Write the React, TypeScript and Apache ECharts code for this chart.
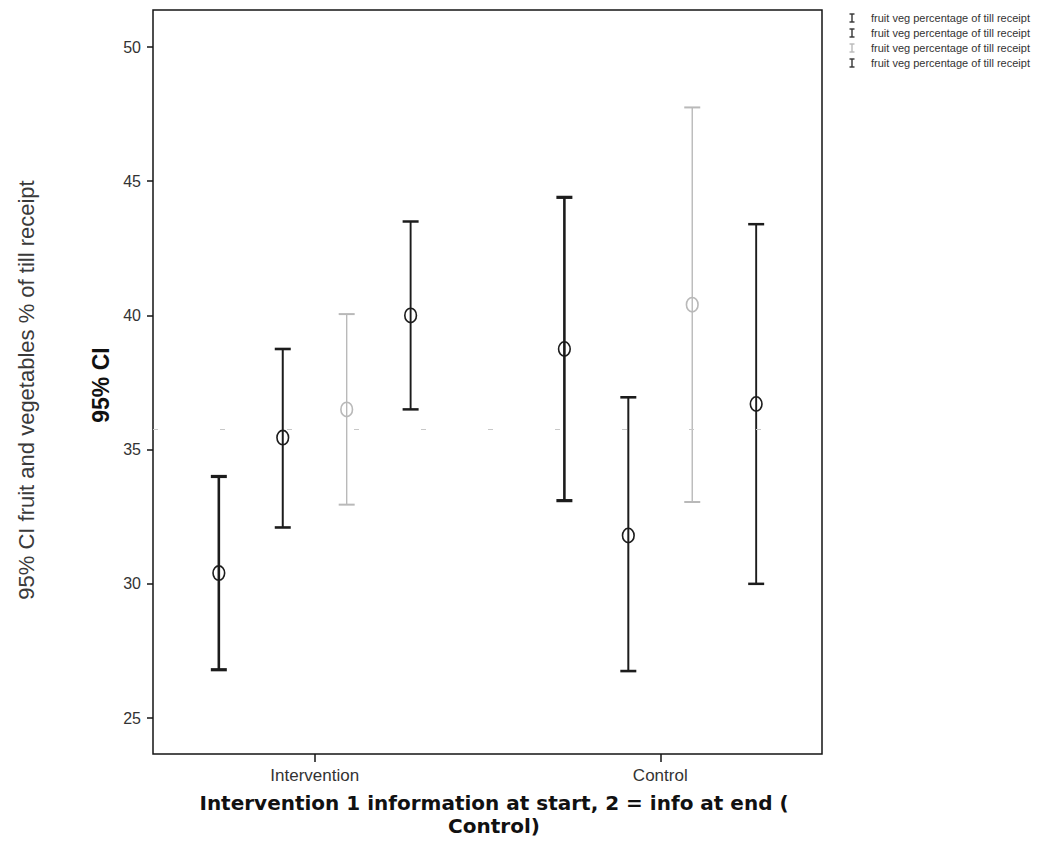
import React, { useEffect, useRef } from "react";
import * as echarts from "echarts";

// ---- data ----
const groupNames = ["Intervention", "Control"];
const groupPositions = [1, 2];
const yTickValues = [25, 30, 35, 40, 45, 50];

const s1Lower = [26.8, 33.1];
const s1Mean = [30.4, 38.75];
const s1Upper = [34.0, 44.4];

const s2Lower = [32.1, 26.75];
const s2Mean = [35.45, 31.8];
const s2Upper = [38.75, 36.95];

const s3Lower = [32.95, 33.05];
const s3Mean = [36.5, 40.4];
const s3Upper = [40.05, 47.75];

const s4Lower = [36.5, 30.0];
const s4Mean = [40.0, 36.7];
const s4Upper = [43.5, 43.4];

const referenceValue = [35.75];

const legendLabels = [
  "fruit veg percentage of till receipt",
  "fruit veg percentage of till receipt",
  "fruit veg percentage of till receipt",
  "fruit veg percentage of till receipt",
];

const yTitle = "95% CI fruit and vegetables % of till receipt";
const innerTitle = "95% CI";
const xTitleLine1 = "Intervention 1 information at start, 2 = info at end (";
const xTitleLine2 = "Control)";

// ---- styles ----
const DARK = "#1c1c1c";
const LIGHT = "#b9b9b9";
const seriesStyles = [
  { color: DARK, width: 2.6, offset: -0.2775 },
  { color: DARK, width: 2.0, offset: -0.0925 },
  { color: LIGHT, width: 1.4, offset: 0.0925 },
  { color: DARK, width: 1.9, offset: 0.2775 },
];

function buildData(lower: number[], mean: number[], upper: number[]) {
  return groupPositions.map((g, i) => [g, lower[i], mean[i], upper[i]]);
}

const seriesData = [
  buildData(s1Lower, s1Mean, s1Upper),
  buildData(s2Lower, s2Mean, s2Upper),
  buildData(s3Lower, s3Mean, s3Upper),
  buildData(s4Lower, s4Mean, s4Upper),
];

function makeRenderItem(style: { color: string; width: number; offset: number }) {
  return (params: any, api: any) => {
    const x = api.value(0);
    const pl = api.coord([x, api.value(1)]);
    const pm = api.coord([x, api.value(2)]);
    const pu = api.coord([x, api.value(3)]);
    const unit = api.size([1, 0])[0];
    const px = pl[0] + unit * style.offset;
    const cap = 8;
    return {
      type: "group",
      children: [
        {
          type: "line",
          shape: { x1: px, y1: pu[1], x2: px, y2: pl[1] },
          style: { stroke: style.color, lineWidth: style.width },
        },
        {
          type: "line",
          shape: { x1: px - cap, y1: pu[1], x2: px + cap, y2: pu[1] },
          style: { stroke: style.color, lineWidth: style.width + 0.6 },
        },
        {
          type: "line",
          shape: { x1: px - cap, y1: pl[1], x2: px + cap, y2: pl[1] },
          style: { stroke: style.color, lineWidth: style.width + 0.6 },
        },
        {
          type: "ellipse",
          shape: { cx: px, cy: pm[1], rx: 5.8, ry: 7.2 },
          style: { fill: "none", stroke: style.color, lineWidth: 1.6 },
        },
      ],
    };
  };
}

export default function App() {
  const ref = useRef<HTMLDivElement>(null);

  useEffect(() => {
    if (!ref.current) return;
    const chart = echarts.init(ref.current, null, { renderer: "svg" });

    const series: any[] = seriesData.map((data, i) => ({
      type: "custom",
      name: legendLabels[i],
      data,
      encode: { x: 0, y: [1, 2, 3] },
      renderItem: makeRenderItem(seriesStyles[i]),
      z: 3,
    }));
    series[0].markLine = {
      silent: true,
      symbol: ["none", "none"],
      label: { show: false },
      lineStyle: { color: "#c8c8c8", width: 1, type: [5, 62] },
      data: [{ yAxis: referenceValue[0] }],
    };

    const legendGraphics: any[] = [];
    legendLabels.forEach((label, i) => {
      const cy = 18 + i * 15;
      const c = i === 2 ? LIGHT : "#333";
      legendGraphics.push(
        {
          type: "line",
          shape: { x1: 852, y1: cy - 4, x2: 852, y2: cy + 4 },
          style: { stroke: c, lineWidth: 1.4 },
        },
        {
          type: "line",
          shape: { x1: 849.5, y1: cy - 4, x2: 854.5, y2: cy - 4 },
          style: { stroke: c, lineWidth: 1.4 },
        },
        {
          type: "line",
          shape: { x1: 849.5, y1: cy + 4, x2: 854.5, y2: cy + 4 },
          style: { stroke: c, lineWidth: 1.4 },
        },
        {
          type: "text",
          x: 871,
          y: cy,
          style: {
            text: label,
            fontSize: 11,
            fontFamily: "Liberation Sans, Arial, sans-serif",
            fill: "#333",
            verticalAlign: "middle",
          },
        }
      );
    });

    chart.setOption({
      animation: false,
      backgroundColor: "#ffffff",
      grid: {
        show: true,
        left: 153,
        top: 10,
        width: 669,
        height: 744,
        borderColor: "#151515",
        borderWidth: 1.5,
        backgroundColor: "transparent",
      },
      xAxis: {
        type: "value",
        min: 0.532,
        max: 2.468,
        axisLine: { show: false },
        splitLine: { show: false },
        axisTick: {
          show: true,
          length: 8,
          customValues: groupPositions,
          lineStyle: { color: "#151515", width: 1.5 },
        },
        axisLabel: {
          show: true,
          customValues: groupPositions,
          formatter: (v: number) => groupNames[groupPositions.indexOf(v)] ?? "",
          fontSize: 17,
          color: "#333",
          fontFamily: "Liberation Sans, Arial, sans-serif",
          margin: 13,
        },
      },
      yAxis: {
        type: "value",
        min: 23.66,
        max: 51.38,
        axisLine: { show: false },
        splitLine: { show: false },
        axisTick: {
          show: true,
          length: 6,
          customValues: yTickValues,
          lineStyle: { color: "#151515", width: 1.5 },
        },
        axisLabel: {
          show: true,
          customValues: yTickValues,
          fontSize: 16,
          color: "#333",
          fontFamily: "Liberation Sans, Arial, sans-serif",
          margin: 12,
        },
      },
      graphic: [
        {
          type: "text",
          x: 26,
          y: 390,
          rotation: Math.PI / 2,
          style: {
            text: yTitle,
            fontSize: 22,
            fontFamily: "Liberation Sans, Arial, sans-serif",
            fill: "#3a3a3a",
            align: "center",
            verticalAlign: "middle",
          },
        },
        {
          type: "text",
          x: 101,
          y: 385,
          rotation: Math.PI / 2,
          style: {
            text: innerTitle,
            fontSize: 23,
            fontWeight: "bold",
            fontFamily: "Liberation Sans, Arial, sans-serif",
            fill: "#111",
            align: "center",
            verticalAlign: "middle",
          },
        },
        {
          type: "text",
          x: 494,
          y: 803,
          style: {
            text: xTitleLine1,
            fontSize: 20,
            fontWeight: "bold",
            fontFamily: "DejaVu Sans, Verdana, sans-serif",
            fill: "#111",
            align: "center",
            verticalAlign: "middle",
          },
        },
        {
          type: "text",
          x: 494,
          y: 826,
          style: {
            text: xTitleLine2,
            fontSize: 20,
            fontWeight: "bold",
            fontFamily: "DejaVu Sans, Verdana, sans-serif",
            fill: "#111",
            align: "center",
            verticalAlign: "middle",
          },
        },
        ...legendGraphics,
      ],
      series,
    });

    return () => chart.dispose();
  }, []);

  return (
    <div
      ref={ref}
      style={{ position: "fixed", left: 0, top: 0, width: 1043, height: 868 }}
    />
  );
}
